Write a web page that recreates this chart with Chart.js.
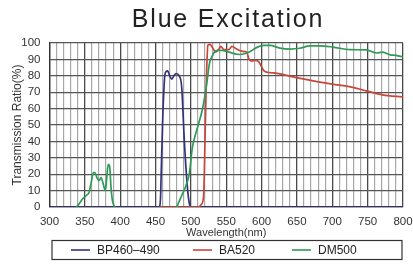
<!DOCTYPE html>
<html>
<head>
<meta charset="utf-8">
<title>Blue Excitation</title>
<script src="https://cdn.jsdelivr.net/npm/chart.js@4.4.1/dist/chart.umd.min.js"></script>
<style>
    html, body { margin: 0; padding: 0; background: #fff; }
    #wrap { width: 413px; height: 266px; position: relative; }
</style>
</head>
<body>
<div id="wrap"><canvas id="chart"></canvas></div>
<script>
// Spectra (wavelength in nm, transmission in %)
const bpNm  = [300, 455, 457, 458, 460, 462.5, 464, 467, 470, 473, 476, 479, 483.5, 487, 490.5, 494.5, 497.5, 500, 800];
const bpVal = [0,   0,   5,   21,  52,  77,    82,  83,  80,  78,  80,  81.4, 80,  73,  42,    15,    2.7,   0,   0];

const baNm  = [455, 511, 515, 518, 520, 522, 524, 527, 530, 535, 540, 542, 547, 554, 558, 564, 572, 579, 582, 586, 591, 596, 603, 610, 620, 653, 700, 724, 748, 771, 800];
const baVal = [0,   0,   1.7, 7,   42,  79,  98.6, 99.2, 97.5, 94.4, 96.5, 98, 96, 96, 98, 96.5, 95, 94.4, 90.3, 89, 89.4, 88.5, 83.2, 82, 81.6, 78.6, 74.9, 73.4, 70.8, 68.4, 67];

// DM500 has a gap between its UV bump and the main edge (null = no line)
const dmNm  = [338, 342, 347, 352, 356, 359, 362, 364, 367, 370, 373, 376, 379, 381, 383, 385, 387, 389, 391, 393,
               436,
               480, 486, 493, 498, 502, 509, 516, 521, 523, 526, 530, 537, 544, 554, 568, 582, 594, 603, 612, 626, 640, 654, 668, 682, 701, 725, 748, 763, 770, 782, 790, 800];
const dmVal = [0,   2,   5,   7,   9,   15,  21,  21,  18,  16,  18,  14,  10,  18,  26,  25,  12,  4,   1,   0,
               null,
               0,   6,   13,  21,  36,  48,  59,  71,  77,  87,  92,  95.5, 95.5, 94.4, 93, 94.4, 97.5, 98.5, 98.5, 96.9, 96.3, 96.8, 98.3, 98.3, 97.5, 95.9, 95.8, 93.9, 94.4, 92.8, 92.5, 91.5];

const seriesNames = ['BP460\u2013490', 'BA520', 'DM500'];
const xTicksMajor = [300, 350, 400, 450, 500, 550, 600, 650, 700, 750, 800];
const yTicks = [0, 10, 20, 30, 40, 50, 60, 70, 80, 90, 100];

const FONT = "'Liberation Sans', Arial, Helvetica, sans-serif";
const colors = {
    navy: '#34337a',
    red: '#c8463b',
    green: '#2f9a58',
    text: '#333333',
    gridMajor: '#4a4a4a',
    gridMinor: '#a8a8a8'
};

function toPoints(xs, ys) {
    return xs.map((x, i) => ({ x: x, y: ys[i] }));
}

// Title drawn by hand so the wide letter spacing can be matched
const titlePlugin = {
    id: 'spacedTitle',
    afterDraw(chart) {
        const ctx = chart.ctx;
        ctx.save();
        ctx.font = '25px ' + FONT;
        ctx.fillStyle = '#222';
        ctx.textAlign = 'center';
        ctx.textBaseline = 'alphabetic';
        if ('letterSpacing' in ctx) ctx.letterSpacing = '1.8px';
        ctx.fillText('Blue Excitation', 228, 27);
        ctx.restore();
    }
};

// Boxed legend under the axis title
const boxLegend = {
    id: 'boxLegend',
    afterDraw(chart) {
        const ctx = chart.ctx;
        const slots = [71, 193, 292];
        ctx.save();
        ctx.strokeStyle = '#333';
        ctx.lineWidth = 1.2;
        ctx.strokeRect(52, 240.5, 350, 19);
        ctx.font = '12px ' + FONT;
        ctx.textBaseline = 'middle';
        ctx.textAlign = 'left';
        chart.data.datasets.forEach((ds, i) => {
            const x = slots[i];
            ctx.strokeStyle = ds.borderColor;
            ctx.lineWidth = 1.6;
            ctx.beginPath();
            ctx.moveTo(x, 250);
            ctx.lineTo(x + 19, 250);
            ctx.stroke();
            ctx.fillStyle = '#222';
            ctx.fillText(ds.label, x + 26, 250.5);
        });
        ctx.restore();
    }
};

new Chart(document.getElementById('chart'), {
    type: 'line',
    data: {
        datasets: [
            { label: seriesNames[0], data: toPoints(bpNm, bpVal), borderColor: colors.navy, order: 3 },
            { label: seriesNames[1], data: toPoints(baNm, baVal), borderColor: colors.red, order: 2 },
            { label: seriesNames[2], data: toPoints(dmNm, dmVal), borderColor: colors.green, order: 1, spanGaps: false }
        ]
    },
    options: {
        responsive: true,
        maintainAspectRatio: false,
        animation: false,
        layout: { padding: { top: 43, right: 10, bottom: 21, left: 0 } },
        elements: {
            point: { radius: 0 },
            line: { borderWidth: 1.7, cubicInterpolationMode: 'monotone', fill: false }
        },
        plugins: {
            legend: { display: false },
            title: { display: false },
            tooltip: { enabled: false }
        },
        scales: {
            x: {
                type: 'linear',
                min: 300,
                max: 800,
                afterBuildTicks: (scale) => {
                    const t = [];
                    for (let v = 300; v <= 800; v += 10) t.push({ value: v });
                    scale.ticks = t;
                },
                afterFit: (scale) => {
                    scale.height = 38;
                    scale.paddingLeft = 0;
                    scale.paddingRight = 0;
                },
                ticks: {
                    autoSkip: false,
                    maxRotation: 0,
                    padding: 8,
                    color: colors.text,
                    font: { family: FONT, size: 11.5 },
                    callback: (v) => xTicksMajor.includes(v) ? String(v) : ''
                },
                grid: {
                    drawTicks: false,
                    color: (c) => (c.tick && c.tick.value % 50 === 0) ? colors.gridMajor : colors.gridMinor,
                    lineWidth: (c) => (c.tick && c.tick.value % 50 === 0) ? 1.3 : 1.2
                },
                border: { color: '#333', width: 1.3 },
                title: {
                    display: true,
                    text: 'Wavelength(nm)',
                    color: colors.text,
                    font: { family: FONT, size: 11 },
                    padding: { top: 0, bottom: 5 }
                }
            },
            y: {
                min: 0,
                max: 100,
                afterBuildTicks: (scale) => { scale.ticks = yTicks.map(v => ({ value: v })); },
                afterFit: (scale) => { scale.width = 49.5; },
                ticks: {
                    autoSkip: false,
                    padding: 9,
                    color: colors.text,
                    font: { family: FONT, size: 11.5 }
                },
                grid: { drawTicks: false, color: '#555', lineWidth: 1.2 },
                border: { color: '#333', width: 1.3 },
                title: {
                    display: true,
                    text: 'Transmission Ratio(%)',
                    color: colors.text,
                    font: { family: FONT, size: 12 },
                    padding: { top: 10, bottom: 0 }
                }
            }
        }
    },
    plugins: [titlePlugin, boxLegend]
});
</script>
</body>
</html>
